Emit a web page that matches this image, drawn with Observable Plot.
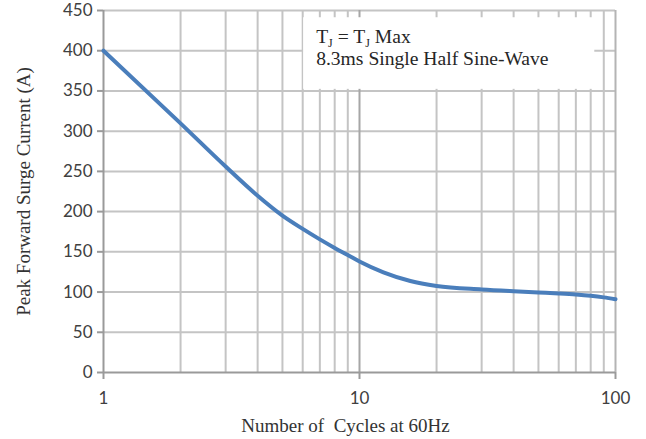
<!DOCTYPE html>
<html><head><meta charset="utf-8">
<script src="https://cdn.jsdelivr.net/npm/d3@7"></script>
<script src="https://cdn.jsdelivr.net/npm/@observablehq/plot@0.6"></script>
<style>body{margin:0;background:#fff;} #chart svg{display:block;}</style>
</head><body><div id="chart"></div>
<script>
const cycles = [1, 2, 3, 4, 5, 6, 7, 8, 9, 10, 12.4, 15.8, 20, 30, 40, 50, 60, 70, 80, 90, 100];
const surge  = [400, 309.7, 256, 219.7, 195, 178.5, 165.5, 154.9, 146, 138, 124.5, 113.7, 107.6, 103.2, 101, 99.5, 98.3, 97, 95.4, 93.4, 91.1];
const xTicks = [1, 10, 100];
const xMinor = [2, 3, 4, 5, 6, 7, 8, 9, 20, 30, 40, 50, 60, 70, 80, 90];
const yTicks = [0, 50, 100, 150, 200, 250, 300, 350, 400, 450];
const xLabel = "Number of  Cycles at 60Hz";
const yLabel = "Peak Forward Surge Current (A)";
const noteLine2 = "8.3ms Single Half Sine-Wave";
const legendBox = [{x1: 6.05, x2: 83, y1: 352, y2: 441}];

const data = cycles.map((c, i) => ({c, v: surge[i]}));
const tickFont = "Lato, 'Open Sans', sans-serif";
const serif = "'Liberation Serif', 'DejaVu Serif', serif";

const chart = Plot.plot({
  width: 646, height: 439,
  marginLeft: 103, marginRight: 31, marginTop: 10, marginBottom: 67,
  style: {background: "#fff", overflow: "visible"},
  x: {type: "log", domain: [1, 100]},
  y: {domain: [0, 450]},
  marks: [
    Plot.ruleX(xMinor, {stroke: "#c4c4c4", strokeWidth: 2}),
    Plot.ruleY(yTicks.filter(d => d > 0), {stroke: "#c4c4c4", strokeWidth: 2}),
    Plot.ruleX([10], {stroke: "#a6a6a6", strokeWidth: 2}),
    Plot.ruleX([100], {stroke: "#b4b4b4", strokeWidth: 2}),
    Plot.rect(legendBox, {x1: "x1", x2: "x2", y1: "y1", y2: "y2", fill: "#fff"}),
    Plot.axisY({ticks: yTicks, tickSize: 6, tickPadding: 5, label: null, fontSize: 17, fontFamily: tickFont, color: "#404040", stroke: "#9a9a9a", strokeWidth: 2}),
    Plot.axisX({ticks: xTicks, tickFormat: d => String(d), tickSize: 7, tickPadding: 12, label: null, fontSize: 17, fontFamily: tickFont, color: "#404040", stroke: "#9a9a9a", strokeWidth: 2}),
    Plot.ruleX([1], {stroke: "#9a9a9a", strokeWidth: 2}),
    Plot.ruleY([0], {stroke: "#9a9a9a", strokeWidth: 2}),
    Plot.line(data, {x: "c", y: "v", stroke: "#4a7ebb", strokeWidth: 4, curve: "monotone-x"}),
    Plot.text([xLabel], {frameAnchor: "bottom", textAnchor: "middle", lineAnchor: "middle", dx: -14, dy: 53, fontSize: 19, fontFamily: serif, fill: "#333"}),
    Plot.text([yLabel], {frameAnchor: "left", textAnchor: "middle", lineAnchor: "middle", dx: -80, rotate: -90, fontSize: 19, fontFamily: serif, fill: "#333"})
  ]
});

// note text inside the legend box
const xs = chart.scale("x"), ys = chart.scale("y");
const tx = xs.apply(legendBox[0].x1) + 13;
const ty = ys.apply(legendBox[0].y2);
const svg = d3.select(chart);
const g = svg.append("g").attr("font-family", serif).attr("font-size", 19.6).attr("fill", "#262626").attr("text-anchor", "start");
const t1 = g.append("text").attr("x", tx).attr("y", ty + 26);
t1.append("tspan").text("T");
t1.append("tspan").attr("font-size", 12).attr("dy", 4).text("J");
t1.append("tspan").attr("dy", -4).text(" = T");
t1.append("tspan").attr("font-size", 12).attr("dy", 4).text("J");
t1.append("tspan").attr("dy", -4).text(" Max");
g.append("text").attr("x", tx).attr("y", ty + 48).text(noteLine2);

document.getElementById("chart").appendChild(chart);
</script>
</body></html>
